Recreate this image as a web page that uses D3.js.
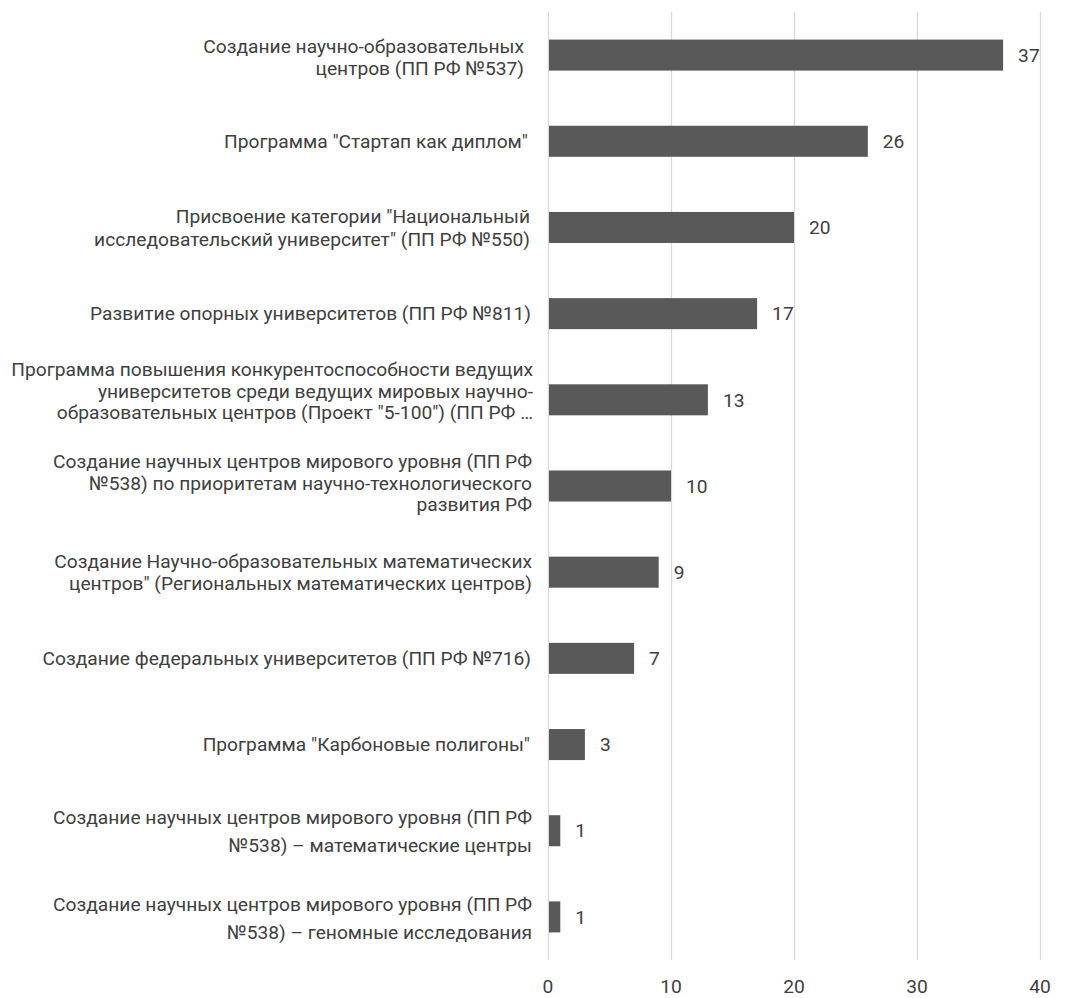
<!DOCTYPE html>
<html><head><meta charset="utf-8">
<script src="https://cdn.jsdelivr.net/npm/d3@7"></script>
<style>body{margin:0;background:#fff}svg{display:block}</style>
</head><body>
<svg id="c" width="1072" height="998"></svg>
<script>
const categories = [
  ["Создание научно-образовательных", "центров (ПП РФ №537)"],
  ["Программа \"Стартап как диплом\""],
  ["Присвоение категории \"Национальный", "исследовательский университет\" (ПП РФ №550)"],
  ["Развитие опорных университетов (ПП РФ №811)"],
  ["Программа повышения конкурентоспособности ведущих", "университетов среди ведущих мировых научно-", "образовательных центров (Проект \"5-100\") (ПП РФ …"],
  ["Создание научных центров мирового уровня (ПП РФ", "№538) по приоритетам научно-технологического", "развития РФ"],
  ["Создание Научно-образовательных математических", "центров\" (Региональных математических центров)"],
  ["Создание федеральных университетов (ПП РФ №716)"],
  ["Программа \"Карбоновые полигоны\""],
  ["Создание научных центров мирового уровня (ПП РФ", "№538) – математические центры"],
  ["Создание научных центров мирового уровня (ПП РФ", "№538) – геномные исследования"]
];
const values = [37, 26, 20, 17, 13, 10, 9, 7, 3, 1, 1];
const xTicks = [0, 10, 20, 30, 40];

// layout constants (not data)
const lineGap = [21.5, 0, 23, 0, 21.5, 21.5, 21.5, 0, 0, 28, 28];
const labelShift = [2, 0, 0, 0, -9, -3, 0, 0, 0, 1, 1];
const labelRight = [524, 528, 530, 531, 533, 532, 532, 531, 530, 532, 532];

const svg = d3.select("#c");
const mLeft = 548, mRight = 1040, mTop = 12, mBottom = 960;
const x = d3.scaleLinear().domain([0, 40]).range([mLeft, mRight]);
const y = d3.scaleBand().domain(d3.range(values.length)).range([mTop, mBottom]).paddingInner(0.64).paddingOuter(0.32);

const FONT = "Roboto, 'Noto Sans', sans-serif";

// gridlines
svg.append("g").selectAll("line").data(xTicks).join("line")
  .attr("x1", d => Math.round(x(d)) + 0.5).attr("x2", d => Math.round(x(d)) + 0.5)
  .attr("y1", mTop).attr("y2", mBottom)
  .attr("stroke", "#d9d9d9").attr("stroke-width", 1.3);

// measure font size to fit the longest label line
const probe = svg.append("text").attr("font-family", FONT).attr("font-size", 16).text(categories[4][0]);
const w16 = probe.node().getComputedTextLength();
probe.remove();
const fs = Math.min(20, 16 * 522 / w16);

// bars
svg.append("g").selectAll("rect").data(values).join("rect")
  .attr("x", x(0) + 1).attr("y", (d, i) => y(i))
  .attr("width", d => x(d) - x(0) - 1).attr("height", y.bandwidth())
  .attr("fill", "#595959");

// value labels
svg.append("g").selectAll("text").data(values).join("text")
  .attr("x", d => x(d) + 15).attr("y", (d, i) => y(i) + y.bandwidth() / 2)
  .attr("dy", "0.35em")
  .attr("font-family", FONT).attr("font-size", fs).attr("fill", "#404040")
  .text(d => d);

// category labels
const lab = svg.append("g");
categories.forEach((lines, i) => {
  const cy = y(i) + y.bandwidth() / 2 + labelShift[i];
  const gap = lineGap[i] || 18;
  const n = lines.length;
  const t = lab.append("text")
    .attr("text-anchor", "end").attr("font-family", FONT).attr("font-size", fs).attr("fill", "#404040");
  lines.forEach((ln, k) => {
    t.append("tspan").attr("x", labelRight[i])
      .attr("y", cy + (k - (n - 1) / 2) * gap).attr("dy", "0.35em").text(ln);
  });
});

// x axis tick labels
svg.append("g").selectAll("text").data(xTicks).join("text")
  .attr("x", d => x(d)).attr("y", 986).attr("dy", "0.35em")
  .attr("text-anchor", "middle")
  .attr("font-family", FONT).attr("font-size", fs).attr("fill", "#404040")
  .text(d => d);
</script>
</body></html>
